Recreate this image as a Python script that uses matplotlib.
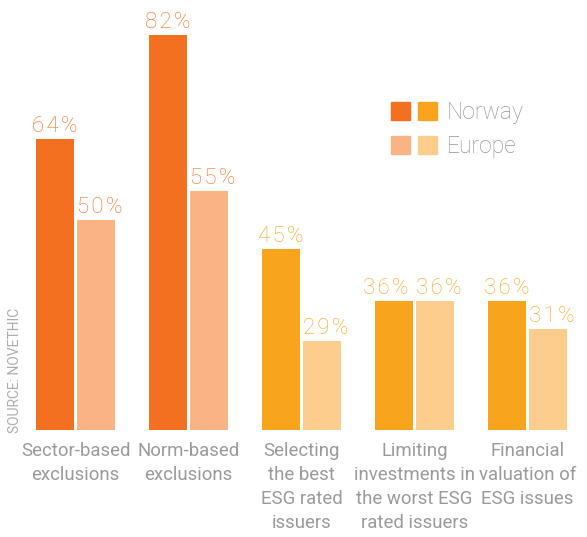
import matplotlib
matplotlib.use("Agg")
import matplotlib.pyplot as plt
from matplotlib.patches import Patch
from matplotlib.legend_handler import HandlerTuple

categories = ["Sector-based\nexclusions", "Norm-based\nexclusions",
              "Selecting\nthe best\nESG rated\nissuers",
              "Limiting\ninvestments in\nthe worst ESG\nrated issuers",
              "Financial\nvaluation of\nESG issues"]
norway = [64, 82, 45, 36, 36]
europe = [50, 55, 29, 36, 31]

# exclusion strategies in orange, selection/integration strategies in amber
dark = ["#F37021", "#F37021", "#F8A51D", "#F8A51D", "#F8A51D"]
light = ["#F9B385", "#F9B385", "#FDCD8D", "#FDCD8D", "#FDCD8D"]
# push the Norway label aside where both bars are equally tall
nudge = [0, 0, 0, -6, 0]

plt.rcParams['font.family'] = ['Roboto', 'DejaVu Sans']
GREY = "#9a9a9a"

W, H = 587, 537
fig = plt.figure(figsize=(W / 100, H / 100), dpi=100)
ax = fig.add_axes([19 / W, (H - 430) / H, 565 / W, 430 / H])

x = list(range(len(categories)))
bw = 0.336
off = 0.181


def pct(v):
    return "\u200a".join(f"{v}%")


for i in x:
    ax.bar(i - off, norway[i], bw, color=dark[i])
    ax.bar(i + off, europe[i], bw, color=light[i])
    ax.annotate(pct(norway[i]), (i - off, norway[i]), xytext=(nudge[i], 5),
                textcoords="offset points", ha="center", va="baseline",
                fontsize=16, fontweight="light", color=dark[i])
    ax.annotate(pct(europe[i]), (i + off - bw / 2, europe[i]), xytext=(0, 5),
                textcoords="offset points", ha="left", va="baseline",
                fontsize=16, fontweight="light", color=dark[i])

ax.set_xlim(-0.5, 4.5)
ax.set_ylim(13.6, 88.0)
ax.set_yticks([])
ax.set_xticks(x, categories, fontsize=13.4, fontweight="normal", color=GREY,
              linespacing=1.42)
ax.tick_params(axis="x", length=0, pad=9)
for s in ax.spines.values():
    s.set_visible(False)

handles = [(Patch(color=dark[0]), Patch(color=dark[2])),
           (Patch(color=light[0]), Patch(color=light[2]))]
leg = ax.legend(handles, ["Norway", "Europe"],
                handler_map={tuple: HandlerTuple(ndivide=None, pad=0.38)},
                loc="upper left", bbox_to_anchor=(391 / W, 1 - 101 / H),
                bbox_transform=fig.transFigure, frameon=False,
                fontsize=16.5, handlelength=2.0, handleheight=0.84,
                handletextpad=0.42, labelspacing=0.48, borderpad=0,
                borderaxespad=0)
for t in leg.get_texts():
    t.set_color("#959595")
    t.set_fontweight("light")

fig.text(15.5 / W, 1 - 433 / H, "SOURCE: NOVETHIC", rotation=90,
         ha="center", va="bottom", fontsize=10, color="#adadad")

fig.savefig("out.png", dpi=100)
